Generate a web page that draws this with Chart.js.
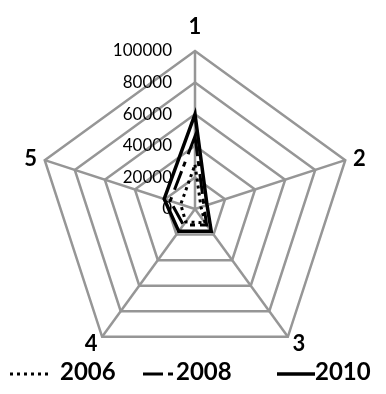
<!DOCTYPE html>
<html>
<head>
<meta charset="utf-8">
<script src="https://cdn.jsdelivr.net/npm/chart.js@4.4.1/dist/chart.umd.min.js"></script>
<style>
  html, body { margin: 0; padding: 0; background: #fff; }
  #wrap { width: 386px; height: 394px; position: relative; }
</style>
</head>
<body>
<div id="wrap"><canvas id="radar"></canvas></div>
<script>
const axisLabels = ['1', '2', '3', '4', '5'];
const tickValues = [0, 20000, 40000, 60000, 80000, 100000];
const series2006 = [28000, 4000, 11000, 10000, 9500];
const series2008 = [46000, 6000, 12500, 12500, 16500];
const series2010 = [60000, 8000, 17500, 17500, 20500];

const GRID = '#969696';

// tick labels sit left of the first spoke, under the lines
const tickLabelPlugin = {
  id: 'tickLabels',
  beforeDatasetsDraw(chart) {
    const s = chart.scales.r;
    const ctx = chart.ctx;
    ctx.save();
    ctx.font = '17px Lato';
    ctx.fillStyle = '#000';
    ctx.textAlign = 'right';
    ctx.textBaseline = 'middle';
    tickValues.forEach((v) => {
      const p = s.getPointPositionForValue(0, v);
      ctx.fillText(String(v), s.xCenter - 23, p.y);
    });
    ctx.restore();
  },
};

// spoke numbers, placed just outside each spoke end
const spokeLabelPlugin = {
  id: 'spokeLabels',
  afterDraw(chart) {
    const s = chart.scales.r;
    const ctx = chart.ctx;
    ctx.save();
    ctx.font = 'bold 22px Lato';
    ctx.fillStyle = '#000';
    chart.data.labels.forEach((label, i) => {
      const p = s.getPointPosition(i, s.drawingArea + 8);
      if (Math.abs(p.x - s.xCenter) < 2) {
        ctx.textAlign = 'center';
        ctx.textBaseline = 'alphabetic';
        ctx.fillText(label, p.x, p.y - 9);
      } else {
        ctx.textAlign = p.x > s.xCenter ? 'left' : 'right';
        ctx.textBaseline = 'middle';
        ctx.fillText(label, p.x, p.y + 1);
      }
    });
    ctx.restore();
  },
};

const legendPlugin = {
  id: 'lineLegend',
  afterDraw(chart) {
    const ctx = chart.ctx;
    const starts = [10, 143, 277];
    const textX = [60, 176, 315];
    const y = 374;
    ctx.save();
    chart.data.datasets.forEach((ds, i) => {
      ctx.beginPath();
      ctx.strokeStyle = '#000';
      ctx.lineWidth = ds.borderWidth;
      ctx.setLineDash(ds.borderDash || []);
      ctx.moveTo(starts[i], y);
      ctx.lineTo(starts[i] + 38, y);
      ctx.stroke();
      ctx.setLineDash([]);
      ctx.font = 'bold 24px Lato';
      ctx.fillStyle = '#000';
      ctx.textAlign = 'left';
      ctx.textBaseline = 'middle';
      ctx.fillText(ds.label, textX[i], y - 2);
    });
    ctx.restore();
  },
};

new Chart(document.getElementById('radar'), {
  type: 'radar',
  data: {
    labels: axisLabels,
    datasets: [
      { label: '2006', data: series2006, borderColor: '#000', borderWidth: 3, borderDash: [3, 4] },
      { label: '2008', data: series2008, borderColor: '#000', borderWidth: 3, borderDash: [20, 5, 5, 8] },
      { label: '2010', data: series2010, borderColor: '#000', borderWidth: 3.5 },
    ],
  },
  options: {
    responsive: true,
    maintainAspectRatio: false,
    animation: false,
    layout: { padding: { top: 51, bottom: 27, left: 37, right: 33 } },
    elements: {
      point: { radius: 0 },
      line: { tension: 0, fill: false, backgroundColor: 'transparent' },
    },
    plugins: {
      legend: { display: false },
      tooltip: { enabled: false },
    },
    scales: {
      r: {
        min: 0,
        max: 100000,
        ticks: { stepSize: 20000, display: false },
        grid: { color: GRID, lineWidth: 2.5 },
        angleLines: { color: GRID, lineWidth: 2.5 },
        pointLabels: { display: false },
      },
    },
  },
  plugins: [tickLabelPlugin, spokeLabelPlugin, legendPlugin],
});
</script>
</body>
</html>
